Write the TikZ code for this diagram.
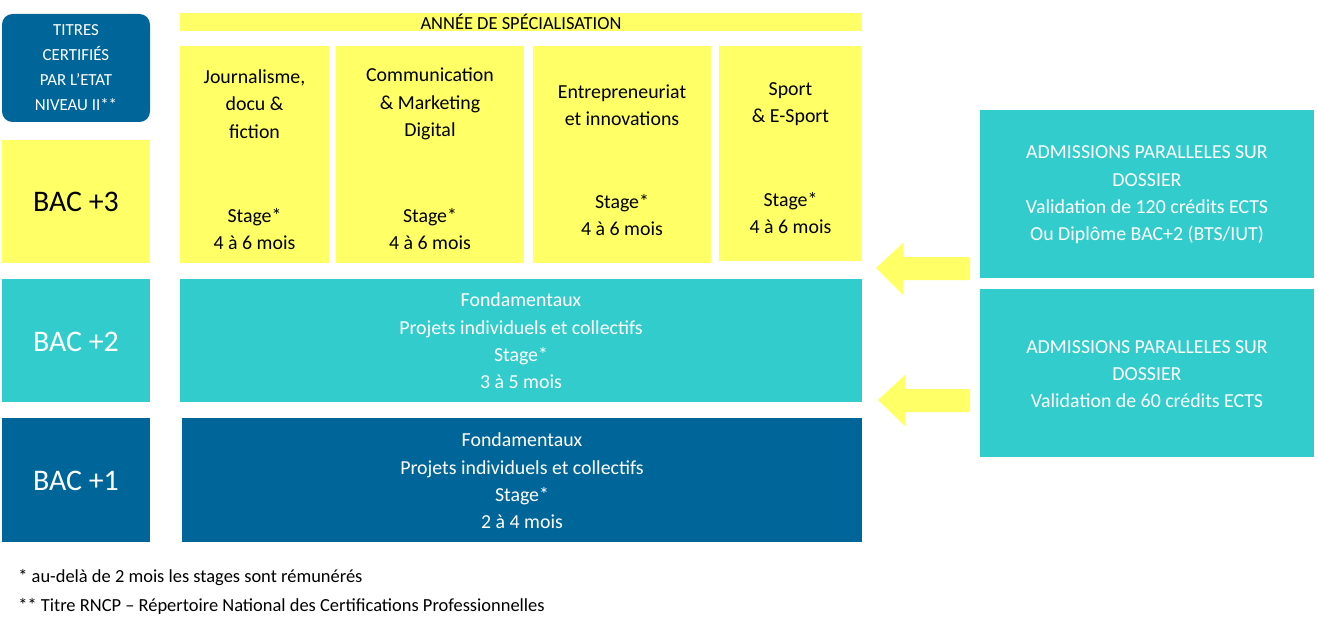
\documentclass[tikz,border=0pt]{standalone}
\usepackage{fontspec}
\setmainfont{Carlito}
\begin{document}
\begin{tikzpicture}[x=0.02cm,y=-0.02cm]
\definecolor{dblue}{HTML}{006699}
\definecolor{teal}{HTML}{33CCCC}
\definecolor{yel}{HTML}{FFFF66}
\tikzset{
 box/.style={inner sep=0pt,align=center,font=\fontsize{11.3}{15.5}\selectfont},
 bac/.style={box,font=\fontsize{17}{20}\selectfont},
 arr/.style={fill=yel,draw=none}
}
\useasboundingbox (0,0) rectangle (1318,635);
% titres
\fill[dblue,rounded corners=6pt] (2,14) rectangle (150,122);
\node[box,text=white,font=\fontsize{9.6}{14.2}\selectfont] (titres) at (76,68) {TITRES\\CERTIFIÉS\\PAR L'ETAT\\NIVEAU II**};
% band
\fill[yel] (180,13) rectangle (862,31);
\node[box,font=\fontsize{10.5}{12}\selectfont] (annee) at (521,22) {ANNÉE DE SPÉCIALISATION};
% BAC +3
\fill[yel] (2,140) rectangle (150,263);
\node[bac] (b3) at (76,202) {BAC +3};
\fill[yel] (180,46) rectangle (329,263);
\node[box] (j1) at (254.5,104) {Journalisme,\\docu \&\\fiction};
\node[box] (j2) at (254.5,229) {Stage*\\4 à 6 mois};
\fill[yel] (336,46) rectangle (524,263);
\node[box] (c1) at (430,104) {Communication\\\& Marketing\\Digital};
\node[box] (c2) at (430,229) {Stage*\\4 à 6 mois};
\fill[yel] (533,46) rectangle (711,263);
\node[box] (e1) at (622,105) {Entrepreneuriat\\et innovations};
\node[box] (e2) at (622,215) {Stage*\\4 à 6 mois};
\fill[yel] (719,46) rectangle (862,261);
\node[box] (s1) at (790.5,104) {Sport\\\& E-Sport};
\node[box] (s2) at (790.5,213) {Stage*\\4 à 6 mois};
% BAC +2
\fill[teal] (2,279) rectangle (150,402);
\node[bac,text=white] (b2) at (76,342) {BAC +2};
\fill[teal] (180,279) rectangle (862,402);
\node[box,text=white] (f2) at (521,341) {Fondamentaux\\Projets individuels et collectifs\\Stage*\\3 à 5 mois};
% BAC +1
\fill[dblue] (2,418) rectangle (150,542);
\node[bac,text=white] (b1) at (76,481) {BAC +1};
\fill[dblue] (182,418) rectangle (862,542);
\node[box,text=white] (f1) at (522,481) {Fondamentaux\\Projets individuels et collectifs\\Stage*\\2 à 4 mois};
% admissions
\fill[teal] (980,110) rectangle (1314,278);
\node[box,text=white] (a1) at (1147,195) {ADMISSIONS PARALLELES SUR\\DOSSIER\\Validation de 120 crédits ECTS\\Ou Diplôme BAC+2 (BTS/IUT)};
\fill[teal] (980,289) rectangle (1314,457);
\node[box,text=white] (a2) at (1147,374) {ADMISSIONS PARALLELES SUR\\DOSSIER\\Validation de 60 crédits ECTS};
% arrows
\fill[arr] (970,257) -- (903,257) -- (903,243) -- (876,268) -- (903,295) -- (903,280) -- (970,280) -- cycle;
\fill[arr] (970,389) -- (905,389) -- (905,375) -- (878,400) -- (905,426) -- (905,412) -- (970,412) -- cycle;
% footnotes
\node[anchor=west,inner sep=0pt,font=\fontsize{10.5}{12}\selectfont] (n1) at (18,578) {* au-delà de 2 mois les stages sont rémunérés};
\node[anchor=west,inner sep=0pt,font=\fontsize{10.5}{12}\selectfont] (n2) at (18,606) {** Titre RNCP – Répertoire National des Certifications Professionnelles};
\end{tikzpicture}
\end{document}
